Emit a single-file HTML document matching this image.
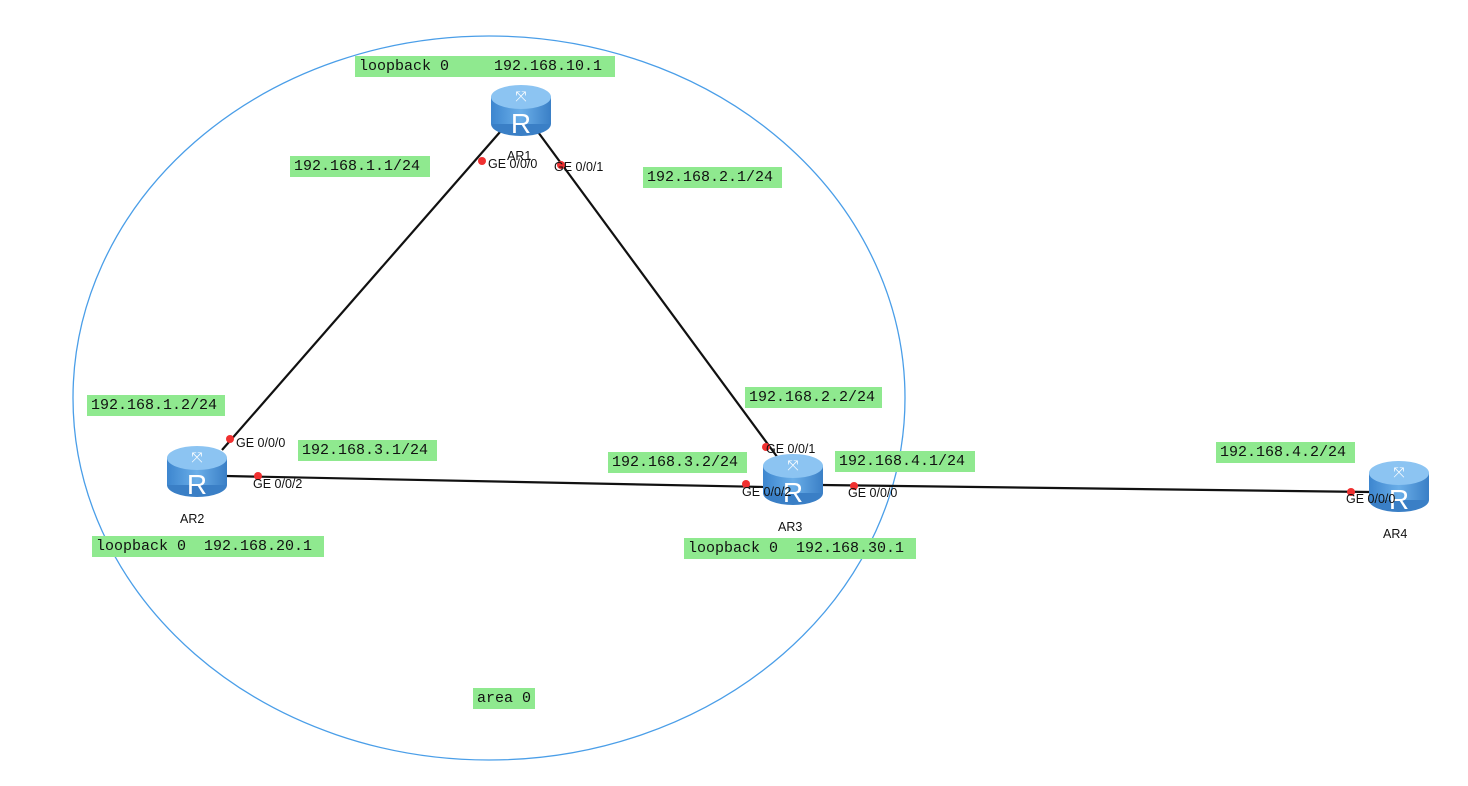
<!DOCTYPE html>
<html><head><meta charset="utf-8"><style>
body{margin:0;background:#fff;width:1468px;height:786px;position:relative;overflow:hidden}
.l{position:absolute;background:#8fe98f;font-family:"Liberation Mono",monospace;font-size:15px;line-height:21px;height:21px;padding:0 4px;box-sizing:border-box;white-space:pre;color:#111}
svg{position:absolute;left:0;top:0}
.p{font-family:"Liberation Sans",sans-serif;font-size:12.5px;fill:#111}
</style></head><body>
<svg width="1468" height="786">
<defs>
<linearGradient id="g" x1="0" x2="1"><stop offset="0" stop-color="#3d86cf"/><stop offset=".5" stop-color="#6aaee8"/><stop offset="1" stop-color="#3a7fc6"/></linearGradient>
<g id="r">
<ellipse cx="31" cy="40" rx="30" ry="12" fill="#3a7fc6"/>
<rect x="1" y="13" width="60" height="27" fill="url(#g)"/>
<ellipse cx="31" cy="13" rx="30" ry="12" fill="#8cc4f2"/>
<text x="31" y="17" text-anchor="middle" font-size="14" fill="#fff" font-family="DejaVu Sans,sans-serif">⤧</text>
<text x="31" y="49" text-anchor="middle" font-size="28" fill="#fff" font-family="Liberation Sans,sans-serif">R</text>
</g>
</defs>
<ellipse cx="489" cy="398" rx="416" ry="362" fill="none" stroke="#4a9ee8" stroke-width="1.3"/>
<g stroke="#111" stroke-width="2.2">
<line x1="500" y1="132" x2="222" y2="450"/>
<line x1="538" y1="132" x2="778" y2="458"/>
<line x1="226" y1="476" x2="765" y2="487"/>
<line x1="822" y1="485" x2="1370" y2="492"/>
</g>
<use href="#r" x="490" y="84"/>
<use href="#r" x="166" y="445"/>
<use href="#r" x="762" y="453"/>
<use href="#r" x="1368" y="460"/>
<g fill="#f03030">
<circle cx="482" cy="161" r="4"/><circle cx="561" cy="165" r="4"/>
<circle cx="230" cy="439" r="4"/><circle cx="258" cy="476" r="4"/>
<circle cx="766" cy="447" r="4"/><circle cx="746" cy="484" r="4"/><circle cx="854" cy="486" r="4"/>
<circle cx="1351" cy="492" r="4"/>
</g>
<g class="p">
<text x="507" y="160" class="p">AR1</text>
<text x="488" y="168" class="p">GE 0/0/0</text>
<text x="554" y="171" class="p">GE 0/0/1</text>
<text x="236" y="447" class="p">GE 0/0/0</text>
<text x="253" y="488" class="p">GE 0/0/2</text>
<text x="180" y="523" class="p">AR2</text>
<text x="766" y="453" class="p">GE 0/0/1</text>
<text x="742" y="496" class="p">GE 0/0/2</text>
<text x="848" y="497" class="p">GE 0/0/0</text>
<text x="778" y="531" class="p">AR3</text>
<text x="1346" y="503" class="p">GE 0/0/0</text>
<text x="1383" y="538" class="p">AR4</text>
</g>
</svg>
<div class="l" style="left:355px;top:56px;width:260px">loopback 0     192.168.10.1</div>
<div class="l" style="left:290px;top:156px;width:140px">192.168.1.1/24</div>
<div class="l" style="left:643px;top:167px;width:139px">192.168.2.1/24</div>
<div class="l" style="left:87px;top:395px;width:138px">192.168.1.2/24</div>
<div class="l" style="left:298px;top:440px;width:139px">192.168.3.1/24</div>
<div class="l" style="left:745px;top:387px;width:137px">192.168.2.2/24</div>
<div class="l" style="left:608px;top:452px;width:139px">192.168.3.2/24</div>
<div class="l" style="left:835px;top:451px;width:140px">192.168.4.1/24</div>
<div class="l" style="left:1216px;top:442px;width:139px">192.168.4.2/24</div>
<div class="l" style="left:92px;top:536px;width:232px">loopback 0  192.168.20.1</div>
<div class="l" style="left:684px;top:538px;width:232px">loopback 0  192.168.30.1</div>
<div class="l" style="left:473px;top:688px;width:62px">area 0</div>
</body></html>
